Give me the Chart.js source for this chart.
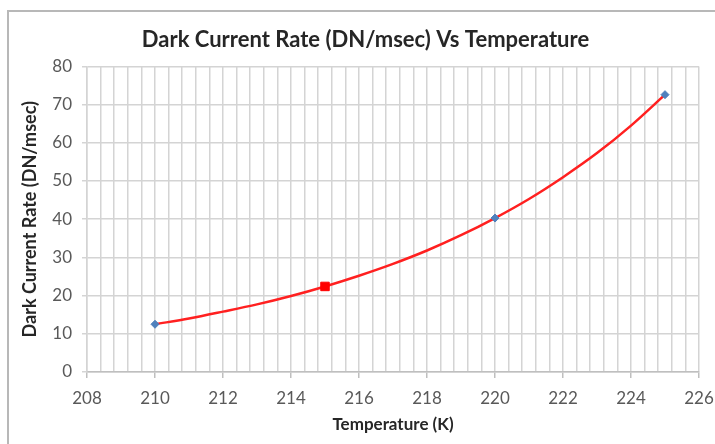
<!DOCTYPE html>
<html><head><meta charset="utf-8">
<script src="https://cdn.jsdelivr.net/npm/chart.js@4"></script>
<style>html,body{margin:0;padding:0;background:#fff}#wrap{width:715px;height:444px;position:relative}</style>
</head><body><div id="wrap"><canvas id="c" width="715" height="444"></canvas></div>
<script>
// Red trend curve
const trendTemps = [210, 211, 212, 213, 214, 215, 216, 217, 218, 219, 220, 221, 222, 223, 224, 225];
const trendRates = [12.5, 14.0, 15.8, 17.7, 19.9, 22.4, 25.2, 28.3, 31.8, 35.8, 40.3, 45.3, 51.0, 57.3, 64.5, 72.6];
// Blue diamond measurements
const measuredTemps = [210, 220, 225];
const measuredRates = [12.5, 40.3, 72.6];
// Red square point
const interpTemps = [215];
const interpRates = [22.4];
const xMin = 208, xMax = 226, xMinor = 0.4, xMajor = 2;
const yMin = 0, yMax = 80, yStep = 10;

const toPts = (xs, ys) => xs.map((x, i) => ({x, y: ys[i]}));
const isMajor = v => Math.abs(v / xMajor - Math.round(v / xMajor)) < 1e-6;

const frame = {
  id: 'frame',
  beforeDraw(chart) {
    const ctx = chart.ctx;
    ctx.save();
    ctx.fillStyle = '#fff';
    ctx.fillRect(0, 0, chart.width, chart.height);
    ctx.strokeStyle = '#b8b8b8';
    ctx.lineWidth = 2;
    ctx.beginPath();
    ctx.moveTo(8, 444); ctx.lineTo(8, 11); ctx.lineTo(715, 11);
    ctx.stroke();
    ctx.restore();
  }
};

new Chart(document.getElementById('c'), {
  type: 'scatter',
  data: {
    datasets: [
      {
        label: 'Trend',
        data: toPts(trendTemps, trendRates),
        showLine: true,
        borderColor: '#ff2020',
        borderWidth: 2.5,
        pointRadius: 0,
        cubicInterpolationMode: 'monotone',
        order: 3
      },
      {
        label: 'Measured',
        data: toPts(measuredTemps, measuredRates),
        pointStyle: 'rectRot',
        pointRadius: 4,
        backgroundColor: '#4f81bd',
        borderColor: '#4f81bd',
        order: 1
      },
      {
        label: 'Interpolated',
        data: toPts(interpTemps, interpRates),
        pointStyle: 'rect',
        pointRadius: 6,
        backgroundColor: '#ff0000',
        borderColor: '#ff0000',
        order: 2
      }
    ]
  },
  options: {
    responsive: false,
    animation: false,
    layout: {padding: {left: 32, right: 16, top: 0, bottom: 0}},
    plugins: {
      legend: {display: false},
      tooltip: {enabled: false},
      title: {
        display: true,
        text: 'Dark Current Rate (DN/msec) Vs Temperature',
        color: '#262626',
        font: {family: 'Lato', size: 22, weight: 'bold'},
        padding: {top: 27, bottom: 13}
      }
    },
    scales: {
      x: {
        type: 'linear',
        min: xMin, max: xMax,
        afterFit(s) { s.height = 72; s.paddingRight = 0; s.paddingLeft = 0; },
        ticks: {
          stepSize: xMinor,
          autoSkip: false,
          maxRotation: 0,
          padding: 10,
          color: '#595959',
          font: {family: 'Lato', size: 17},
          callback: v => isMajor(v) ? String(Math.round(v)) : ''
        },
        grid: {
          color: '#d4d4d4',
          lineWidth: 1.5,
          tickLength: 6,
          tickColor: c => (c.tick && isMajor(c.tick.value)) ? '#bfbfbf' : 'rgba(0,0,0,0)'
        },
        border: {color: '#bfbfbf', width: 1.5},
        title: {
          display: true,
          text: 'Temperature (K)',
          color: '#262626',
          font: {family: 'Lato', size: 17, weight: 'bold'},
          padding: {top: 4, bottom: 9}
        }
      },
      y: {
        min: yMin, max: yMax,
        afterFit(s) { s.width = 55; },
        ticks: {
          stepSize: yStep,
          padding: 10,
          color: '#595959',
          font: {family: 'Lato', size: 17}
        },
        grid: {
          color: '#d4d4d4',
          lineWidth: 1.5,
          tickLength: 5,
          tickColor: '#d4d4d4'
        },
        border: {color: '#d4d4d4', width: 1.5},
        title: {
          display: true,
          text: 'Dark Current Rate (DN/msec)',
          color: '#262626',
          font: {family: 'Lato', size: 18, weight: 'bold'},
          padding: {top: -13, bottom: 0}
        }
      }
    }
  },
  plugins: [frame]
});
</script>
</body></html>
